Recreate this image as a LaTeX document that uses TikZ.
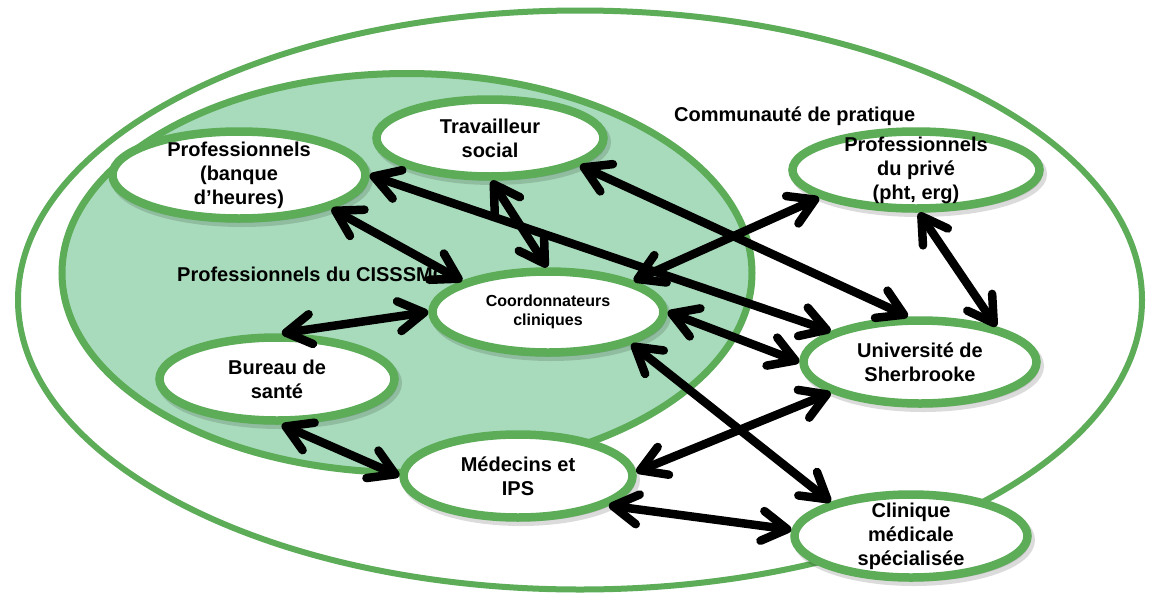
\documentclass[tikz,border=0pt]{standalone}
\usepackage{fontspec}
\setmainfont{Liberation Sans}
\usetikzlibrary{shapes.geometric,arrows.meta,shadows}
\definecolor{cgreen}{RGB}{92,172,88}
\definecolor{cfill}{RGB}{168,219,187}
\begin{document}
\begin{tikzpicture}[x=1pt,y=-1pt,
  ent/.style={ellipse, draw=cgreen, line width=8.5pt, fill=white, inner sep=0pt,
    drop shadow={shadow xshift=3pt, shadow yshift=-4pt, opacity=0.14, fill=black, draw=black, line width=9pt}},
  lab/.style={font=\bfseries\fontsize{20}{24}\selectfont, align=center, inner sep=0pt},
  smalllab/.style={font=\bfseries\fontsize{16}{19}\selectfont, align=center, inner sep=0pt},
  zone/.style={font=\bfseries\fontsize{20}{24}\selectfont, inner sep=0pt},
  link/.style={line width=8.5pt, line cap=round,
    {Straight Barb[length=25pt,width=30pt,round]}-{Straight Barb[length=25pt,width=30pt,round]}}
]
\fill[white] (0,0) rectangle (1149,600);
\useasboundingbox (0,0) rectangle (1149,600);

% zones
\draw[cgreen, line width=6pt, fill=white] (580,300) ellipse [x radius=562pt, y radius=289.5pt];
\draw[cgreen, line width=7pt, fill=cfill] (407,273) ellipse [x radius=345pt, y radius=199.5pt];

\node[zone, anchor=base west] (commu) at (674,121) {Communauté de pratique};
\node[zone, anchor=base west] (ciss) at (177,281) {Professionnels du CISSSMC};

% entities
\node[ent, minimum width=253pt, minimum height=87pt,
  label={[lab]center:{Professionnels\\(banque\\d’heures)}}] (pb) at (239,175) {};
\node[ent, minimum width=227pt, minimum height=77pt,
  label={[lab]center:{Travailleur\\social}}] (ts) at (490,138) {};
\node[ent, minimum width=247pt, minimum height=77pt,
  label={[lab]center:{Professionnels\\du privé\\(pht, erg)}}] (pp) at (916,170) {};
\node[ent, minimum width=231pt, minimum height=81pt,
  label={[smalllab]center:{Coordonnateurs\\cliniques}}] (cc) at (548,312) {};
\node[ent, minimum width=235pt, minimum height=83pt,
  label={[lab]center:{Bureau de\\santé}}] (bs) at (277,379) {};
\node[ent, minimum width=229pt, minimum height=83pt,
  label={[lab]center:{Médecins et\\IPS}}] (me) at (518,476) {};
\node[ent, minimum width=233pt, minimum height=83pt,
  label={[lab]center:{Université de\\Sherbrooke}}] (us) at (920,362) {};
\node[ent, minimum width=233pt, minimum height=83pt,
  label={[lab]center:{Clinique\\médicale\\spécialisée}}] (cm) at (911,536) {};

% links
\draw[link] (pb.-20) -- (cc.160);
\draw[link] (pb.0) -- (us.161);
\draw[link] (ts.-88) -- (cc.91);
\draw[link] (ts.-17) -- (us.105);
\draw[link] (pp.196) -- (cc.20);
\draw[link] (pp.-86) -- (us.25);
\draw[link] (cc.180) -- (bs.84);
\draw[link] (cc.0) -- (us.180);
\draw[link] (cc.-21) -- (cm.157);
\draw[link] (bs.-84) -- (me.180);
\draw[link] (me.2) -- (us.199);
\draw[link] (me.-18) -- (cm.177);
\end{tikzpicture}
\end{document}
